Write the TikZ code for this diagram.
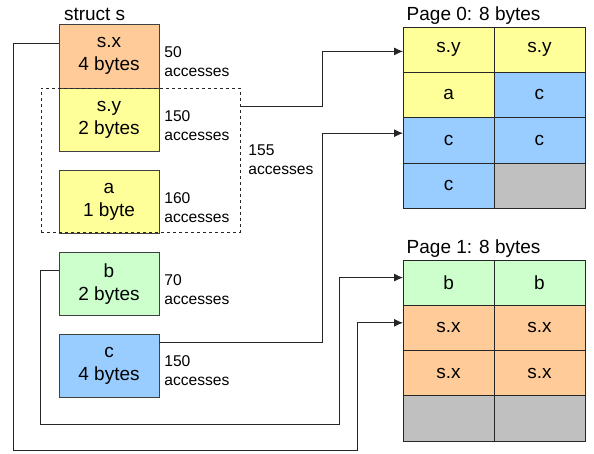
\documentclass[tikz,border=0pt]{standalone}
\usepackage{fontspec}
\setmainfont{Liberation Sans}
\usetikzlibrary{positioning,arrows.meta}
\definecolor{sxorange}{HTML}{FFCC99}
\definecolor{syyellow}{HTML}{FFFF99}
\definecolor{bgreen}{HTML}{CCFFCC}
\definecolor{cblue}{HTML}{99CCFF}
\definecolor{padgray}{HTML}{C0C0C0}
\begin{document}
\begin{tikzpicture}[x=1pt,y=-1pt,
  field/.style={draw=black!75, minimum width=100pt, minimum height=63.5pt, align=center, font=\fontsize{19}{23}\selectfont},
  cell/.style={draw=black!85, minimum width=90.8pt, minimum height=45.4pt, font=\fontsize{19}{23}\selectfont},
  acc/.style={anchor=west, align=left, inner sep=5pt, font=\fontsize{15.6}{19}\selectfont},
  title/.style={anchor=base west, inner sep=0pt, font=\fontsize{19}{23}\selectfont},
  conn/.style={draw=black!85, line width=0.9pt},
  arr/.style={conn, -{Latex[length=9pt,width=8pt]}},
  node distance=18pt]
	\useasboundingbox (0,0) rectangle (594,453);

	\node[field, fill=sxorange] (sx) at (109,56) {s.x\\4 bytes};
	\node[field, fill=syyellow, below=0pt of sx] (sy) {s.y\\2 bytes};
	\node[field, fill=syyellow, below=of sy] (a) {a\\1 byte};
	\node[field, fill=bgreen, below=of a] (b) {b\\2 bytes};
	\node[field, fill=cblue, below=of b] (c) {c\\4 bytes};
	\node[draw=black!85, dashed, minimum width=199pt, minimum height=144pt] (group) at (140.5,160) {};

	\node[title] (structname) at ([xshift=5pt,yshift=3.5pt]sx.north west) {struct s};
	\node[acc] (sxacc) at ([yshift=-5.5pt]sx.east) {50\\accesses};
	\node[acc] (syacc) at ([yshift=-5.5pt]sy.east) {150\\accesses};
	\node[acc] (aacc) at ([yshift=-5.5pt]a.east) {160\\accesses};
	\node[acc] (bacc) at ([yshift=-5.5pt]b.east) {70\\accesses};
	\node[acc] (cacc) at ([yshift=-5.5pt]c.east) {150\\accesses};
	\node[acc, xshift=3pt] (groupacc) at (group.east) {155\\accesses};

	\foreach \r/\la/\ca/\lb/\cb in {1/s.y/syyellow/s.y/syyellow, 2/a/syyellow/c/cblue, 3/c/cblue/c/cblue, 4/c/cblue/{}/padgray}{
		\node[cell, fill=\ca] (p0-\r-1) at (448.6,{26.7+45.4*(\r-0.5)}) {\la};
		\node[cell, fill=\cb] (p0-\r-2) at (539.4,{26.7+45.4*(\r-0.5)}) {\lb};
	}
	\foreach \r/\la/\ca/\lb/\cb in {1/b/bgreen/b/bgreen, 2/s.x/sxorange/s.x/sxorange, 3/s.x/sxorange/s.x/sxorange, 4/{}/padgray/{}/padgray}{
		\node[cell, fill=\ca] (p1-\r-1) at (448.6,{260+45.2*(\r-0.5)}) {\la};
		\node[cell, fill=\cb] (p1-\r-2) at (539.4,{260+45.2*(\r-0.5)}) {\lb};
	}
	\node[title] (p0title) at ([xshift=3.5pt,yshift=6pt]p0-1-1.north west) {Page 0: 8 bytes};
	\node[title] (p1title) at ([xshift=3.5pt,yshift=6pt]p1-1-1.north west) {Page 1: 8 bytes};

	\draw[arr] ([yshift=54pt]group.east) -- ++(82,0) |- ([yshift=-2pt]p0-1-1.west);
	\draw[arr] ([yshift=23pt]c.east) -- ++(163,0) |- ([yshift=7pt]p0-3-1.west);
	\draw[arr] ([yshift=13.5pt]b.west) -- ++(-18,0) -- ++(0,154) -- ++(299,0) |- ([yshift=5pt]p1-1-1.west);
	\draw[arr] ([yshift=13pt]sx.west) -- ++(-45,0) -- ++(0,407) -- ++(344,0) |- ([yshift=5pt]p1-2-1.west);
\end{tikzpicture}
\end{document}
